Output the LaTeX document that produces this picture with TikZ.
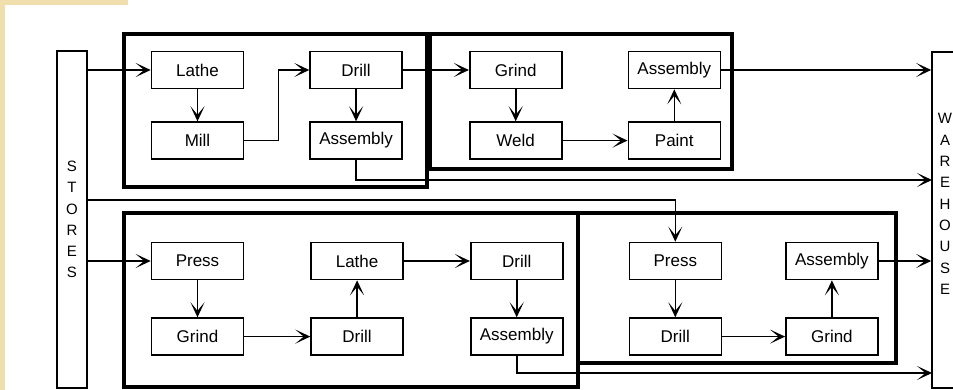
\documentclass[tikz,border=0pt]{standalone}
\usepackage{fontspec}
\setmainfont{Liberation Sans}
\usetikzlibrary{positioning, arrows.meta, calc}

\definecolor{paper}{RGB}{240,222,172}

\begin{document}
\begin{tikzpicture}[
        x=1pt, y=-1pt,
        >={Stealth[length=15pt,width=14pt,inset=8.5pt]},
        every node/.style={font=\fontsize{17}{19}\selectfont},
        stage/.style={rectangle, draw, line width=1.6pt, minimum width=92pt, minimum height=37pt, inner sep=0pt},
        shop/.style={draw, line width=3.6pt},
        store/.style={rectangle, draw, line width=1.6pt, minimum width=30pt, inner sep=0pt, align=center},
        letters/.style={align=center, font=\fontsize{15}{21.3}\selectfont},
        flow/.style={->, line width=1.6pt}
    ]
        \useasboundingbox (0,0) rectangle (953,390);
        \fill[white] (0,0) rectangle (953,390);
        \fill[paper] (0,0) rectangle (128,5);
        \fill[paper] (0,0) rectangle (5,390);

        % Stores and warehouse
        \node[store, minimum height=337pt, letters] (stores) at (72,219.5) {S\\T\\O\\R\\E\\S};
        \node[store, minimum height=336pt] (warehouse) at (947,220) {};
        \node[letters] (warehouseText) at (945,204) {W\\A\\R\\E\\H\\O\\U\\S\\E};

        % Shops
        \draw[shop] (124,34) rectangle (427,187);
        \draw[shop] (430,34) rectangle (732,169);
        \draw[shop] (124,213) rectangle (578,387);
        \draw[shop] (578,213) rectangle (896,363);

        % Top line
        \node[stage] (lathe1) at (197.5,70) {Lathe};
        \node[stage, below=32pt of lathe1] (mill1) {Mill};
        \node[stage, right=65pt of lathe1] (drill1) {Drill};
        \node[stage, below=32pt of drill1] (assembly1) {Assembly};
        \node[stage, right=66pt of drill1] (grind2) {Grind};
        \node[stage, below=32pt of grind2] (weld2) {Weld};
        \node[stage, right=65pt of grind2] (assembly2) {Assembly};
        \node[stage, below=32pt of assembly2] (paint2) {Paint};

        % Bottom line
        \node[stage] (press3) at (197.5,261) {Press};
        \node[stage, below=37pt of press3] (grind3) {Grind};
        \node[stage, right=66pt of press3] (lathe3) {Lathe};
        \node[stage, below=37pt of lathe3] (drill3a) {Drill};
        \node[stage, right=66pt of lathe3] (drill3b) {Drill};
        \node[stage, below=37pt of drill3b] (assembly3) {Assembly};
        \node[stage, right=65pt of drill3b] (press4) {Press};
        \node[stage, below=37pt of press4] (drill4) {Drill};
        \node[stage, right=63pt of press4] (assembly4) {Assembly};
        \node[stage, below=37pt of assembly4] (grind4) {Grind};

        \coordinate (feed) at (87,200);
        \coordinate (rail1) at (932,180);
        \coordinate (rail2) at (932,373);

        % Arrows
        \draw[flow] (stores.east |- lathe1) -- (lathe1);
        \draw[flow] (lathe1) -- (mill1);
        \draw[flow] (mill1.east) -- ++(34pt,0pt) |- (drill1.west);
        \draw[flow] (drill1) -- (assembly1);
        \draw[flow] (drill1) -- (grind2);
        \draw[flow] (grind2) -- (weld2);
        \draw[flow] (weld2) -- (paint2);
        \draw[flow] (paint2) -- (assembly2);
        \draw[flow] (assembly2) -- (assembly2 -| warehouse.west);
        \draw[flow] (assembly1.south) |- (rail1);

        \draw[flow] (stores.east |- press3) -- (press3);
        \draw[flow] (press3) -- (grind3);
        \draw[flow] (grind3) -- (drill3a);
        \draw[flow] (drill3a) -- (lathe3);
        \draw[flow] (lathe3) -- (drill3b);
        \draw[flow] (drill3b) -- (assembly3);
        \draw[flow] (assembly3.south) |- (rail2);

        \draw[flow] (stores.east |- feed) -| (press4.north);
        \draw[flow] (press4) -- (drill4);
        \draw[flow] (drill4) -- (grind4);
        \draw[flow] (grind4) -- (assembly4);
        \draw[flow] (assembly4) -- (assembly4 -| warehouse.west);

    \end{tikzpicture}
\end{document}
